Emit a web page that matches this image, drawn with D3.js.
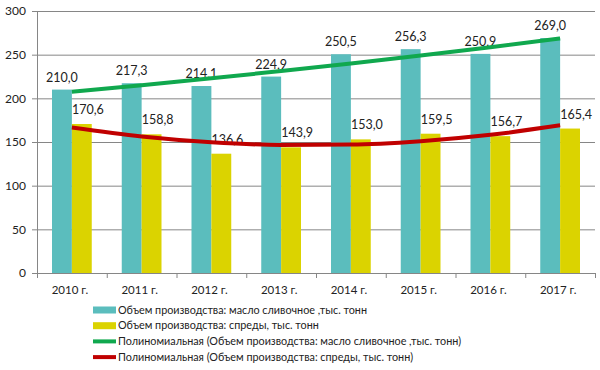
<!DOCTYPE html>
<html>
<head>
<meta charset="utf-8">
<script src="https://cdn.jsdelivr.net/npm/d3@7"></script>
<style>
  body { margin: 0; background: #fff; }
  text { font-family: Lato, "Open Sans", sans-serif; fill: #222; }
</style>
</head>
<body>
<div id="chart"></div>
<script>
// Data
var years = ["2010 г.", "2011 г.", "2012 г.", "2013 г.", "2014 г.", "2015 г.", "2016 г.", "2017 г."];
var butter = [210.0, 217.3, 214.1, 224.9, 250.5, 256.3, 250.9, 269.0];
var spreads = [170.6, 158.8, 136.6, 143.9, 153.0, 159.5, 156.7, 165.4];
// polynomial trend lines, read at each category
var butterTrend = [207.5, 215.0, 222.9, 231.3, 240.0, 249.1, 258.6, 268.6];
var spreadsTrend = [166.6, 156.4, 149.8, 146.6, 147.0, 150.9, 158.2, 169.1];
var yTicks = [0, 50, 100, 150, 200, 250, 300];

var legendNames = [
  "Объем производства: масло сливочное ,тыс. тонн",
  "Объем производства: спреды, тыс. тонн",
  "Полиномиальная (Объем производства: масло сливочное ,тыс. тонн)",
  "Полиномиальная (Объем производства: спреды, тыс. тонн)"
];

var svgWidth = 600;
var svgHeight = 370;

var margin = { top: 11, right: 5, bottom: 97, left: 37 };
var width = svgWidth - margin.left - margin.right;
var height = svgHeight - margin.top - margin.bottom;

var colors = {
  butter: "#5bbdbd",
  spreads: "#dbd300",
  butterTrend: "#10a84e",
  spreadsTrend: "#c00000",
  axis: "#868686"
};

var svg = d3.select("#chart")
  .append("svg")
  .attr("width", svgWidth)
  .attr("height", svgHeight);

var chartGroup = svg.append("g")
  .attr("transform", `translate(${margin.left}, ${margin.top})`);

// scales
var x0 = d3.scaleBand()
  .domain(years)
  .range([0, width]);

var x1 = d3.scaleBand()
  .domain(["butter", "spreads"])
  .range([15, x0.bandwidth() - 15]);

var y = d3.scaleLinear()
  .domain([0, 300])
  .range([height, 0]);

var fmt = function(v) { return d3.format(".1f")(v).replace(".", ","); };

// gridlines
chartGroup.append("g")
  .call(d3.axisLeft(y).tickValues(yTicks.slice(1)).tickSize(-width).tickFormat(""))
  .call(g => g.select(".domain").remove())
  .selectAll("line")
  .attr("stroke", colors.axis)
  .attr("stroke-width", 1);

// y axis
var yAxis = chartGroup.append("g")
  .call(d3.axisLeft(y).tickValues(yTicks).tickSize(5).tickSizeOuter(0).tickPadding(6));
yAxis.select(".domain").attr("stroke", colors.axis);
yAxis.selectAll("line").attr("stroke", colors.axis);
yAxis.selectAll("text").attr("font-size", "12px").attr("fill", "#222");

// bars
var groups = chartGroup.selectAll(".year")
  .data(years)
  .enter()
  .append("g")
  .attr("transform", d => `translate(${x0(d)}, 0)`);

groups.append("rect")
  .attr("x", x1("butter"))
  .attr("width", x1.bandwidth())
  .attr("y", (d, i) => y(butter[i]))
  .attr("height", (d, i) => height - y(butter[i]))
  .attr("fill", colors.butter);

groups.append("rect")
  .attr("x", x1("spreads"))
  .attr("width", x1.bandwidth())
  .attr("y", (d, i) => y(spreads[i]))
  .attr("height", (d, i) => height - y(spreads[i]))
  .attr("fill", colors.spreads);

// x axis: boundary ticks
var xBound = d3.scaleLinear().domain([0, years.length]).range([0, width]);
var xAxis = chartGroup.append("g")
  .attr("transform", `translate(0, ${height})`)
  .call(d3.axisBottom(xBound).ticks(years.length).tickSize(5).tickFormat(""));
xAxis.select(".domain").attr("stroke", colors.axis);
xAxis.selectAll("line").attr("stroke", colors.axis);

var xLabels = chartGroup.append("g")
  .attr("transform", `translate(0, ${height})`)
  .call(d3.axisBottom(x0).tickSize(0).tickPadding(13));
xLabels.select(".domain").remove();
xLabels.selectAll("text").attr("font-size", "11.5px").attr("fill", "#222").attr("dx", "-2");

// trend lines
var line = d3.line()
  .x((d, i) => x0(years[i]) + x0.bandwidth() / 2)
  .y(d => y(d))
  .curve(d3.curveMonotoneX);

chartGroup.append("path")
  .datum(butterTrend)
  .attr("d", line)
  .attr("fill", "none")
  .attr("stroke", colors.butterTrend)
  .attr("stroke-width", 4);

chartGroup.append("path")
  .datum(spreadsTrend)
  .attr("d", line)
  .attr("fill", "none")
  .attr("stroke", colors.spreadsTrend)
  .attr("stroke-width", 4);

// value labels
groups.append("text")
  .attr("x", x1("butter") + x1.bandwidth() / 2)
  .attr("y", (d, i) => y(butter[i]) - 8)
  .attr("text-anchor", "middle")
  .attr("font-size", "12.5px")
  .text((d, i) => fmt(butter[i]));

groups.append("text")
  .attr("x", x1("spreads") + x1.bandwidth() / 2 + 6)
  .attr("y", (d, i) => y(spreads[i]) - 10)
  .attr("text-anchor", "middle")
  .attr("font-size", "12.5px")
  .text((d, i) => fmt(spreads[i]));

// legend
var legend = svg.append("g")
  .attr("transform", "translate(93, 310)");

var legendColors = [colors.butter, colors.spreads, colors.butterTrend, colors.spreadsTrend];

legendNames.forEach(function(name, i) {
  var row = legend.append("g")
    .attr("transform", `translate(0, ${i * 15.7})`);
  if (i < 2) {
    row.append("rect")
      .attr("x", 0)
      .attr("y", -3.5)
      .attr("width", 23)
      .attr("height", 7)
      .attr("fill", legendColors[i]);
  } else {
    row.append("line")
      .attr("x1", 0)
      .attr("x2", 23)
      .attr("y1", 0)
      .attr("y2", 0)
      .attr("stroke", legendColors[i])
      .attr("stroke-width", 4);
  }
  row.append("text")
    .attr("x", 25)
    .attr("y", 0)
    .attr("dy", "0.35em")
    .attr("font-size", "10.8px")
    .text(name);
});
</script>
</body>
</html>
